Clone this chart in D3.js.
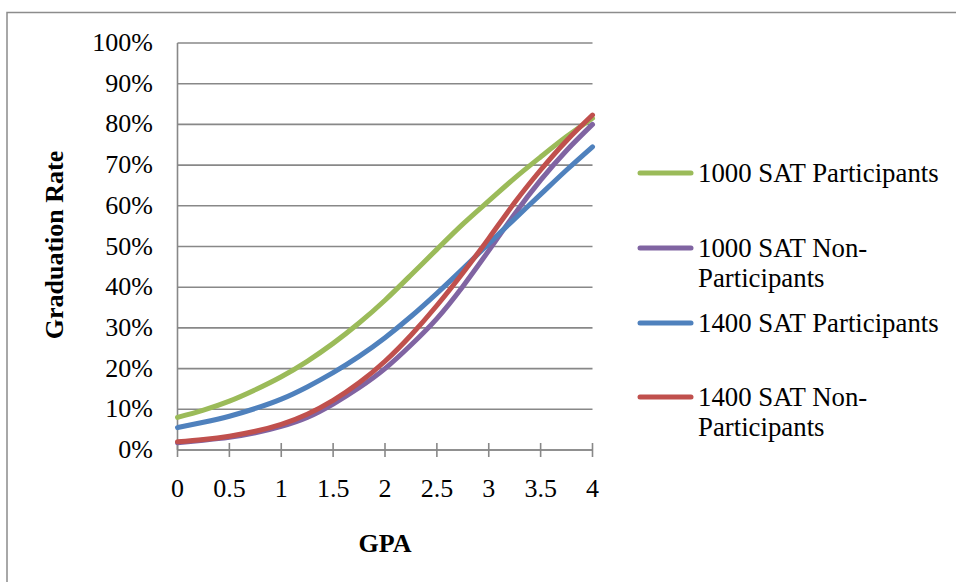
<!DOCTYPE html>
<html>
<head>
<meta charset="utf-8">
<script src="https://cdn.jsdelivr.net/npm/d3@7"></script>
<style>
  html, body { margin: 0; padding: 0; background: #fff; }
  svg { display: block; }
  text { font-family: "Liberation Serif", "Times New Roman", serif; fill: #000; }
</style>
</head>
<body>
<svg id="chart" width="956" height="582"></svg>
<script>
// GPA values along the x axis
const gpa = [0, 0.25, 0.5, 0.75, 1, 1.25, 1.5, 1.75, 2, 2.25, 2.5, 2.75, 3, 3.25, 3.5, 3.75, 4];

// Predicted graduation rate (%) for each group
const sat1000Participants    = [8, 9.8, 12, 14.8, 18, 21.8, 26.2, 31.2, 36.8, 43, 49.3, 55.5, 61.2, 66.8, 72, 77, 81.5];
const sat1000NonParticipants = [1.8, 2.4, 3.1, 4.2, 5.8, 8, 11.3, 15.3, 20, 25.8, 32.3, 40.2, 49, 58, 66.3, 73.6, 80];
const sat1400Participants    = [5.5, 6.8, 8.3, 10.2, 12.5, 15.5, 19, 23, 27.6, 32.8, 38.5, 44.5, 50.7, 56.8, 62.8, 68.8, 74.5];
const sat1400NonParticipants = [2, 2.6, 3.4, 4.6, 6.3, 8.8, 12.2, 16.5, 21.8, 28.2, 35.5, 43.5, 52, 60.8, 68.8, 76, 82.3];

const seriesNames  = ["1000 SAT Participants", "1000 SAT Non-Participants", "1400 SAT Participants", "1400 SAT Non-Participants"];
const seriesColors = ["#9BBB59", "#8064A2", "#4F81BD", "#C0504D"];
const legendLines  = [["1000 SAT Participants"], ["1000 SAT Non-", "Participants"], ["1400 SAT Participants"], ["1400 SAT Non-", "Participants"]];

const xTicks = [0, 0.5, 1, 1.5, 2, 2.5, 3, 3.5, 4];
const xTickLabels = ["0", "0.5", "1", "1.5", "2", "2.5", "3", "3.5", "4"];
const yTicks = [0, 10, 20, 30, 40, 50, 60, 70, 80, 90, 100];
const yTickLabels = ["0%", "10%", "20%", "30%", "40%", "50%", "60%", "70%", "80%", "90%", "100%"];

const seriesValues = [sat1000Participants, sat1000NonParticipants, sat1400Participants, sat1400NonParticipants];

const svg = d3.select("#chart");
const fontSize = 26;

// Outer chart frame
svg.append("rect")
  .attr("x", 7).attr("y", 12.5)
  .attr("width", 1000).attr("height", 700)
  .attr("fill", "none").attr("stroke", "#8c8c8c").attr("stroke-width", 1.5);

const x = d3.scaleLinear().domain([0, 4]).range([177.5, 592.5]);
const y = d3.scaleLinear().domain([0, 100]).range([450, 43]);

// Horizontal gridlines
svg.append("g").selectAll("line")
  .data(yTicks)
  .join("line")
  .attr("x1", x(0)).attr("x2", x(4))
  .attr("y1", d => y(d)).attr("y2", d => y(d))
  .attr("stroke", "#888").attr("stroke-width", 1.6);

// Y axis line
svg.append("line")
  .attr("x1", x(0)).attr("x2", x(0))
  .attr("y1", y(0)).attr("y2", y(100))
  .attr("stroke", "#888").attr("stroke-width", 1.6);

// X axis line with crossing tick marks
svg.append("line")
  .attr("x1", x(0)).attr("x2", x(4))
  .attr("y1", y(0)).attr("y2", y(0))
  .attr("stroke", "#888").attr("stroke-width", 1.6);
svg.append("g").selectAll("line")
  .data(xTicks)
  .join("line")
  .attr("x1", d => x(d)).attr("x2", d => x(d))
  .attr("y1", y(0) - 7).attr("y2", y(0) + 7)
  .attr("stroke", "#888").attr("stroke-width", 1.6);

// Tick labels
svg.append("g").selectAll("text")
  .data(yTicks)
  .join("text")
  .attr("x", 153)
  .attr("y", d => y(d) + 8)
  .attr("text-anchor", "end")
  .attr("font-size", fontSize)
  .text((d, i) => yTickLabels[i]);

svg.append("g").selectAll("text")
  .data(xTicks)
  .join("text")
  .attr("x", d => x(d))
  .attr("y", 497)
  .attr("text-anchor", "middle")
  .attr("font-size", fontSize)
  .text((d, i) => xTickLabels[i]);

// Axis titles
svg.append("text")
  .attr("transform", "translate(63,245) rotate(-90)")
  .attr("text-anchor", "middle")
  .attr("font-size", 26)
  .attr("font-weight", "bold")
  .text("Graduation Rate");

svg.append("text")
  .attr("x", 385).attr("y", 552)
  .attr("text-anchor", "middle")
  .attr("font-size", 26)
  .attr("font-weight", "bold")
  .text("GPA");

// Series lines
const line = d3.line()
  .x(d => x(d[0]))
  .y(d => y(d[1]))
  .curve(d3.curveNatural);

svg.append("g").selectAll("path")
  .data(seriesValues)
  .join("path")
  .attr("d", vals => line(gpa.map((g, i) => [g, vals[i]])))
  .attr("fill", "none")
  .attr("stroke", (d, i) => seriesColors[i])
  .attr("stroke-width", 5)
  .attr("stroke-linecap", "round")
  .attr("stroke-linejoin", "round");

// Legend
const legendY = [173, 248, 323, 397];
const legend = svg.append("g").selectAll("g")
  .data(seriesNames)
  .join("g");

legend.append("line")
  .attr("x1", 640).attr("x2", 691)
  .attr("y1", (d, i) => legendY[i]).attr("y2", (d, i) => legendY[i])
  .attr("stroke", (d, i) => seriesColors[i])
  .attr("stroke-width", 5)
  .attr("stroke-linecap", "round");

legend.each(function(d, i) {
  const t = d3.select(this).append("text")
    .attr("x", 698)
    .attr("y", legendY[i] + 9)
    .attr("font-size", 26.8);
  legendLines[i].forEach((s, j) => {
    t.append("tspan")
      .attr("x", 698)
      .attr("dy", j === 0 ? 0 : 30)
      .text(s);
  });
});
</script>
</body>
</html>
